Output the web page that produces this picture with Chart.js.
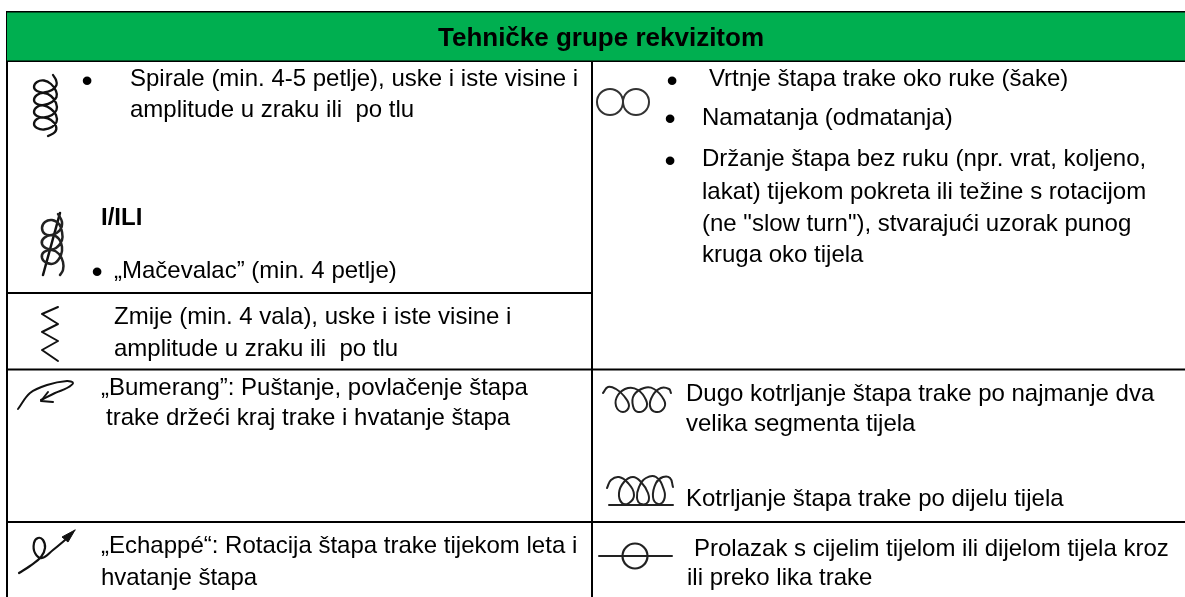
<!DOCTYPE html>
<html><head><meta charset="utf-8">
<script src="https://cdn.jsdelivr.net/npm/chart.js@4"></script>
<style>html,body{margin:0;padding:0;background:#fff}canvas{display:block}</style>
</head><body><canvas id="c" width="1185" height="597"></canvas>
<script>
// --- table content ---
const title = "Tehničke grupe rekvizitom";
const textLines = [
 "Spirale (min. 4-5 petlje), uske i iste visine i",
 "amplitude u zraku ili  po tlu",
 "„Mačevalac” (min. 4 petlje)",
 "Zmije (min. 4 vala), uske i iste visine i",
 "amplitude u zraku ili  po tlu",
 "„Bumerang”: Puštanje, povlačenje štapa",
 "trake držeći kraj trake i hvatanje štapa",
 "„Echappé“: Rotacija štapa trake tijekom leta i",
 "hvatanje štapa",
 "Vrtnje štapa trake oko ruke (šake)",
 "Namatanja (odmatanja)",
 "Držanje štapa bez ruku (npr. vrat, koljeno,",
 "lakat) tijekom pokreta ili težine s rotacijom",
 "(ne \"slow turn\"), stvarajući uzorak punog",
 "kruga oko tijela",
 "Dugo kotrljanje štapa trake po najmanje dva",
 "velika segmenta tijela",
 "Kotrljanje štapa trake po dijelu tijela",
 "Prolazak s cijelim tijelom ili dijelom tijela kroz",
 "ili preko lika trake"
];
const textX = [130,130,114,114,114,101,106,101,101,709,702,702,702,702,702,686,686,686,694,687];
const textY = [86,117,278,324,356,395,425,553,585,86,125,166,199,231,262,401,431,506,556,585];
const boldNote = "I/ILI";
const bulletsX = [87,97,672,670,670];
const bulletsY = [82,273,82,120.5,162.5];

// --- table rules: [x0,y0,x1,y1] ---
const ruleLines = [
 [6,12,1185,12],[6,61,1185,61],[7,12,7,597],[592,61,592,597],
 [7,293,592,293],[7,369.5,1185,369.5],[7,522,1185,522]
];
const headerBand = [[7,36.5],[1185,36.5]];

// --- notation symbols ---
const spiral = [[53,75],[56,80],[56.5,85],[52,90],[44,92.5],[37,91],[34,87],[37,82],[44,80.5],[51,84],[56,91],[56.5,97],[52,102],[44,105],[37,104],[34,100],[37,95],[44,93],[51,96],[56,103],[56.5,110],[52,115],[44,117.5],[37,116],[34,112],[37,107],[44,105.5],[51,109],[56,115],[56.5,122],[52,127],[44,129.5],[37,128],[34,124],[37,119],[44,117.5],[51,120],[56,126],[55,132],[48,136]];
const fencer = [[58,214],[62,222],[60,230],[52,235],[45,234],[42,228],[45,222],[52,220],[59,224],[62,232],[62,240],[56,248],[48,249],[42,244],[44,238],[52,235],[59,239],[62,247],[61,255],[55,263],[47,263],[42,258],[44,252],[52,250],[59,254],[63,262],[63,270],[60,275]];
const fencerBlade = [[43,275],[60,213]];
const snake = [[58,307],[42,314],[58,324],[42,332],[58,341],[42,350],[58,361]];
const boomerang = [[18,409],[30,393],[47,385],[67,381],[73,383],[67,388],[55,393],[41,400]];
const boomerangHead = [[48,392],[41,401],[53,402]];
const echappe = [[19,573],[30,566],[41,557],[45,548],[43,540],[38,538],[34,543],[35,553],[42,558],[53,550],[65,540]];
const echappeHead = [[75,530],[62,537],[68,542],[75,530]];
const longRoll = [[603,393],[608,387],[616,389],[624,396],[629,406],[623,412],[616,406],[618,395],[628,388],[638,390],[646,400],[646,408],[638,412],[633,406],[634,395],[644,388],[654,389],[664,400],[664,408],[656,412],[650,406],[653,395],[661,388],[669,389],[671,393]];
const shortRoll = [[607,488],[611,480],[619,477],[628,483],[634,495],[629,503],[622,503],[619,493],[624,482],[633,477],[641,482],[648,493],[648,502],[641,504],[637,498],[639,487],[646,478],[656,477],[664,490],[664,500],[658,504],[653,497],[656,483],[663,477],[670,478],[673,487]];
const shortRollBase = [[609,505],[673,505]];
const passLine = [[599,556],[672,556]];
const passCircle = [[635,556]];
const wrapCircles = [[610,102],[636,102]];

const xy = a => a.map(p => ({x:p[0], y:p[1]}));
const path = (a, w, color, tension) => ({data:xy(a), showLine:true, borderColor:color||'#111', backgroundColor:color||'#111',
  borderWidth:w, pointRadius:0, tension:tension||0, fill:false, borderCapStyle:'round', borderJoinStyle:'round'});

const datasets = [
  Object.assign(path(headerBand,48,'#00AF50'),{borderCapStyle:'butt'}),
  ...ruleLines.map(r => Object.assign(path([[r[0],r[1]],[r[2],r[3]]], 2, '#000'),{borderCapStyle:'butt'})),
  path(spiral,2.3,'#111',0.4),
  path(fencer,2.5,'#222',0.4),
  path(fencerBlade,2.5,'#111'),
  path(snake,2,'#111'),
  path(boomerang,2,'#111',0.35),
  path(boomerangHead,2,'#111'),
  path(echappe,2.2,'#111',0.4),
  Object.assign(path(echappeHead,1,'#111'),{fill:'shape'}),
  path(longRoll,2,'#222',0.45),
  path(shortRoll,2,'#222',0.45),
  path(shortRollBase,2,'#222'),
  path(passLine,2,'#222'),
  {data:xy(passCircle),pointStyle:'circle',pointRadius:12.5,pointBorderWidth:2.2,pointBorderColor:'#222',pointBackgroundColor:'rgba(0,0,0,0)'},
  {data:xy(wrapCircles),pointStyle:'circle',pointRadius:13,pointBorderWidth:2,pointBorderColor:'#333',pointBackgroundColor:'rgba(0,0,0,0)'}
];

const tableText = {
  id:'tableText',
  afterDatasetsDraw(chart){
    const c = chart.ctx, X = chart.scales.x, Y = chart.scales.y;
    c.save();
    c.fillStyle = '#000';
    c.textBaseline = 'alphabetic';
    c.textAlign = 'center';
    c.font = 'bold 26px "Liberation Sans"';
    c.fillText(title, X.getPixelForValue(601), Y.getPixelForValue(46));
    c.textAlign = 'left';
    c.font = 'bold 24px "Liberation Sans"';
    c.fillText(boldNote, X.getPixelForValue(101), Y.getPixelForValue(225));
    c.font = '24px "Liberation Sans"';
    textLines.forEach((t,i) => c.fillText(t, X.getPixelForValue(textX[i]), Y.getPixelForValue(textY[i])));
    c.textAlign = 'center';
    c.textBaseline = 'middle';
    c.font = '32px "Liberation Sans"';
    bulletsX.forEach((x,i) => c.fillText('•', X.getPixelForValue(x), Y.getPixelForValue(bulletsY[i])));
    c.restore();
  }
};

new Chart(document.getElementById('c'), {
  type:'scatter',
  data:{datasets},
  options:{
    responsive:false, animation:false, events:[],
    layout:{padding:0, autoPadding:false},
    plugins:{legend:{display:false},tooltip:{enabled:false},title:{display:false}},
    scales:{
      x:{type:'linear',min:0,max:1185,display:false},
      y:{type:'linear',min:0,max:597,reverse:true,display:false}
    }
  },
  plugins:[tableText]
});
</script></body></html>
